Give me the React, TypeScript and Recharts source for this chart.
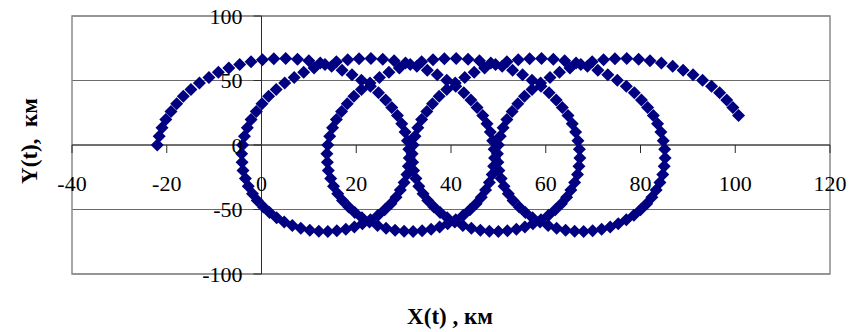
import React from 'react';
import {
  ScatterChart, Scatter, XAxis, YAxis, CartesianGrid,
  ReferenceLine, ReferenceArea
} from 'recharts';

const X_TICKS = [-40, -20, 0, 20, 40, 60, 80, 100, 120];
const Y_TICKS = [-100, -50, 0, 50, 100];

// Y(t), km over one turn of the trajectory (the same on every turn)
const yTurn = [
  0, 6.7, 13.3, 19.7, 26.0, 32.0, 37.7, 43.1, 48.0, 52.4,
  56.3, 59.6, 62.4, 64.5, 66.0, 66.8, 67.0, 66.5, 65.3, 63.5,
  61.1, 58.0, 54.4, 50.2, 45.6, 40.5, 34.9, 29.1, 22.9, 16.5,
  10.0, 3.3, -3.3, -10.0, -16.5, -22.9, -29.1, -34.9, -40.5, -45.6,
  -50.2, -54.4, -58.0, -61.1, -63.5, -65.3, -66.5, -67.0, -66.8, -66.0,
  -64.5, -62.4, -59.6, -56.3, -52.4, -48.0, -43.1, -37.7, -32.0, -26.0,
  -19.7, -13.3, -6.7,
];

// X(t), km for each turn
const xTurn1 = [
  -22.0, -21.6, -21.0, -20.2, -19.1, -17.9, -16.5, -14.9, -13.1, -11.1,
  -9.1, -6.9, -4.6, -2.2, 0.2, 2.6, 5.1, 7.6, 10.0, 12.4,
  14.8, 17.0, 19.1, 21.1, 23.0, 24.7, 26.2, 27.5, 28.7, 29.6,
  30.3, 30.8, 31.1, 31.2, 31.0, 30.7, 30.1, 29.3, 28.4, 27.3,
  26.0, 24.6, 23.0, 21.3, 19.6, 17.8, 15.9, 14.0, 12.1, 10.2,
  8.3, 6.5, 4.8, 3.2, 1.7, 0.4, -0.9, -1.9, -2.8, -3.4,
  -3.9, -4.1, -4.2,
];
const xTurn2 = [
  -4.0, -3.6, -3.0, -2.2, -1.1, 0.1, 1.5, 3.1, 4.9, 6.9,
  8.9, 11.1, 13.4, 15.8, 18.2, 20.6, 23.1, 25.6, 28.0, 30.4,
  32.8, 35.0, 37.1, 39.1, 41.0, 42.7, 44.2, 45.5, 46.7, 47.6,
  48.3, 48.8, 49.1, 49.2, 49.0, 48.7, 48.1, 47.3, 46.4, 45.3,
  44.0, 42.6, 41.0, 39.3, 37.6, 35.8, 33.9, 32.0, 30.1, 28.2,
  26.3, 24.5, 22.8, 21.2, 19.7, 18.4, 17.1, 16.1, 15.2, 14.6,
  14.1, 13.9, 13.8,
];
const xTurn3 = [
  14.0, 14.4, 15.0, 15.8, 16.9, 18.1, 19.5, 21.1, 22.9, 24.9,
  26.9, 29.1, 31.4, 33.8, 36.2, 38.6, 41.1, 43.6, 46.0, 48.4,
  50.8, 53.0, 55.1, 57.1, 59.0, 60.7, 62.2, 63.5, 64.7, 65.6,
  66.3, 66.8, 67.1, 67.2, 67.0, 66.7, 66.1, 65.3, 64.4, 63.3,
  62.0, 60.6, 59.0, 57.3, 55.6, 53.8, 51.9, 50.0, 48.1, 46.2,
  44.3, 42.5, 40.8, 39.2, 37.7, 36.4, 35.1, 34.1, 33.2, 32.6,
  32.1, 31.9, 31.8,
];
const xTurn4 = [
  32.0, 32.4, 33.0, 33.8, 34.9, 36.1, 37.5, 39.1, 40.9, 42.9,
  44.9, 47.1, 49.4, 51.8, 54.2, 56.6, 59.1, 61.6, 64.0, 66.4,
  68.8, 71.0, 73.1, 75.1, 77.0, 78.7, 80.2, 81.5, 82.7, 83.6,
  84.3, 84.8, 85.1, 85.2, 85.0, 84.7, 84.1, 83.3, 82.4, 81.3,
  80.0, 78.6, 77.0, 75.3, 73.6, 71.8, 69.9, 68.0, 66.1, 64.2,
  62.3, 60.5, 58.8, 57.2, 55.7, 54.4, 53.1, 52.1, 51.2, 50.6,
  50.1, 49.9, 49.8,
];
// last turn stops on the way down the right side
const xTurn5 = [
  50.0, 50.4, 51.0, 51.8, 52.9, 54.1, 55.5, 57.1, 58.9, 60.9,
  62.9, 65.1, 67.4, 69.8, 72.2, 74.6, 77.1, 79.6, 82.0, 84.4,
  86.8, 89.0, 91.1, 93.1, 95.0, 96.7, 98.2, 99.5, 100.7,
];

const turns = [xTurn1, xTurn2, xTurn3, xTurn4, xTurn5];
const points = turns.flatMap(xs => xs.map((x, i) => ({ x, y: yTurn[i] })));

const W = 865;
const H = 332;
// axes get a thin strip each; the plot box is 72..830 x 16..274
const X_AXIS_H = 20;
const Y_AXIS_W = 20;
const margin = { top: 16, right: 35, bottom: 58 - X_AXIS_H, left: 72 - Y_AXIS_W };
const plotLeft = 72;
const plotW = W - plotLeft - margin.right;
const plotH = H - margin.top - 58;
// where the axes cross (x = 0, y = 0)
const zeroX = plotLeft + plotW * (0 - X_TICKS[0]) / (X_TICKS[X_TICKS.length - 1] - X_TICKS[0]);
const zeroY = margin.top + plotH / 2;

const SERIF = '"Liberation Serif", "Times New Roman", serif';
const AXIS = '#2b2b2b';
const MARKER = '#000080';
const TICK_FONT = 22;

function XTick({ x, payload }: any) {
  return (
    <g>
      <line x1={x} x2={x} y1={zeroY} y2={zeroY + 8} stroke={AXIS} />
      <text x={x} y={zeroY + 46} textAnchor="middle" fontSize={TICK_FONT} fontFamily={SERIF} fill="#000">
        {payload.value}
      </text>
    </g>
  );
}

function YTick({ y, payload }: any) {
  return (
    <g>
      <line x1={zeroX - 8} x2={zeroX} y1={y} y2={y} stroke={AXIS} />
      <text x={zeroX - 19} y={y + 7.5} textAnchor="end" fontSize={TICK_FONT} fontFamily={SERIF} fill="#000">
        {payload.value}
      </text>
    </g>
  );
}

function Diamond({ cx, cy }: any) {
  const r = 6.5;
  return (
    <polygon
      points={`${cx},${cy - r} ${cx + r},${cy} ${cx},${cy + r} ${cx - r},${cy}`}
      fill={MARKER}
    />
  );
}

export default function App() {
  return (
    <div style={{ position: 'absolute', left: 0, top: 0, width: W, height: H, background: '#fff' }}>
      <ScatterChart width={W} height={H} margin={margin}>
        <CartesianGrid vertical={false} stroke="#6a6a6a" />
        <ReferenceArea x1={-40} x2={120} y1={-100} y2={100} fill="none" stroke="#8a8a8a" strokeWidth={1.5} />
        <XAxis
          type="number" dataKey="x" domain={[-40, 120]} ticks={X_TICKS} interval={0}
          height={X_AXIS_H} axisLine={false} tickLine={false}
          tick={(props: any) => <XTick {...props} />}
        />
        <YAxis
          type="number" dataKey="y" domain={[-100, 100]} ticks={Y_TICKS} interval={0}
          width={Y_AXIS_W} axisLine={false} tickLine={false}
          tick={(props: any) => <YTick {...props} />}
        />
        <ReferenceLine y={0} stroke={AXIS} />
        <ReferenceLine x={0} stroke={AXIS} />
        <Scatter data={points} shape={<Diamond />} isAnimationActive={false} />
      </ScatterChart>
      <svg width={W} height={H} style={{ position: 'absolute', left: 0, top: 0, pointerEvents: 'none' }}>
        <text
          x={37} y={141} transform="rotate(-90, 37, 141)" textAnchor="middle"
          fontSize={23} fontWeight="bold" fontFamily={SERIF} style={{ whiteSpace: 'pre' }}
        >
          {'Y(t),  км'}
        </text>
        <text
          x={450} y={324} textAnchor="middle"
          fontSize={23} fontWeight="bold" fontFamily={SERIF} style={{ whiteSpace: 'pre' }}
        >
          {'X(t) , км'}
        </text>
      </svg>
    </div>
  );
}
